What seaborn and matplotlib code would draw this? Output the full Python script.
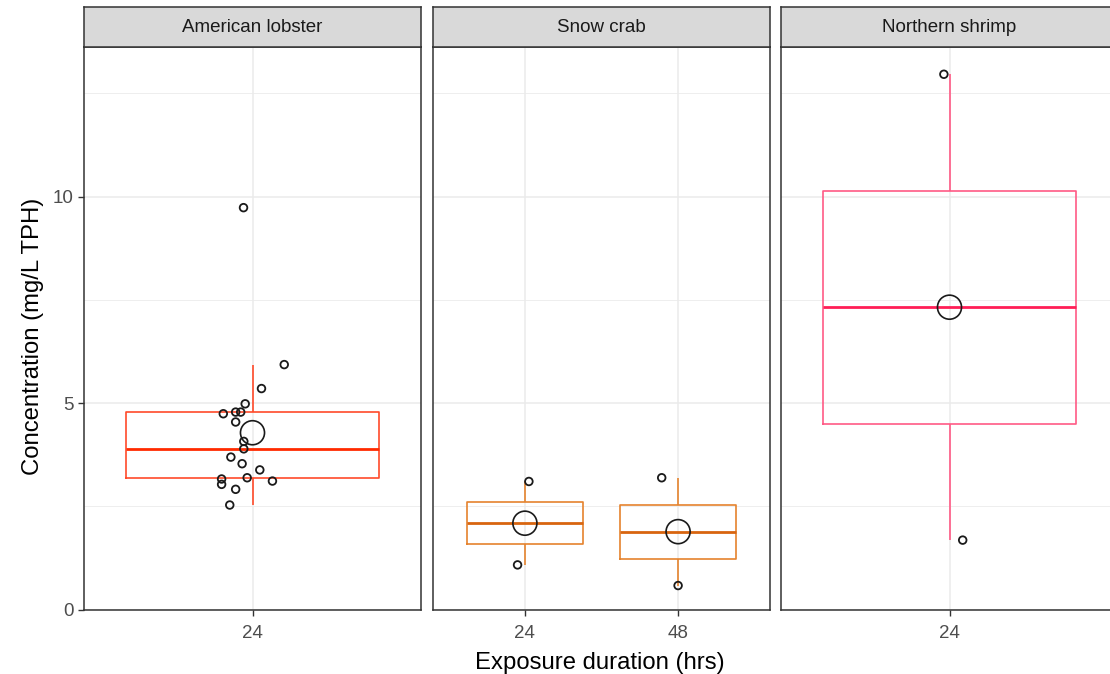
import numpy as np
import pandas as pd
import matplotlib
matplotlib.use("Agg")
import matplotlib.pyplot as plt
import seaborn as sns

# ---------------- data ----------------
species = ["American lobster", "Snow crab", "Northern shrimp"]
durations = {"American lobster": ["24"], "Snow crab": ["24", "48"], "Northern shrimp": ["24"]}

lobster_24 = [5.93, 5.35, 4.98, 4.74, 4.78, 4.78, 4.54, 4.07, 3.89, 3.69,
              3.53, 3.38, 3.16, 3.03, 3.19, 3.11, 2.91, 2.53, 9.73]
lobster_24_jitter = [0.113, 0.032, -0.026, -0.104, -0.060, -0.042, -0.060, -0.031, -0.031, -0.077,
                     -0.037, 0.026, -0.110, -0.110, -0.019, 0.071, -0.060, -0.081, -0.032]
snowcrab_24 = [3.10, 1.08]
snowcrab_24_jitter = [0.026, -0.048]
snowcrab_48 = [3.19, 0.58]
snowcrab_48_jitter = [-0.107, 0.0]
shrimp_24 = [12.96, 1.68]
shrimp_24_jitter = [-0.020, 0.047]

y_ticks = [0, 5, 10]
x_title = "Exposure duration (hrs)"
y_title = "Concentration (mg/L TPH)"

rows = []
for sp, dur, vals, jit in [("American lobster", "24", lobster_24, lobster_24_jitter),
                           ("Snow crab", "24", snowcrab_24, snowcrab_24_jitter),
                           ("Snow crab", "48", snowcrab_48, snowcrab_48_jitter),
                           ("Northern shrimp", "24", shrimp_24, shrimp_24_jitter)]:
    for v, j in zip(vals, jit):
        rows.append({"species": sp, "duration": dur, "conc": v, "jitter": j})
df = pd.DataFrame(rows)

# ---------------- styling ----------------
sns.set_theme(style="white")
plt.rcParams["font.family"] = ["Liberation Sans", "DejaVu Sans"]

box_colors = {"American lobster": "#FF4A2A", "Snow crab": "#E5832E", "Northern shrimp": "#FF5A85"}
med_colors = {"American lobster": "#FF2A00", "Snow crab": "#D8650F", "Northern shrimp": "#FF1E56"}
box_widths = {"American lobster": 0.9, "Snow crab": 0.76, "Northern shrimp": 0.9}

W, H = 1110, 674
fig = plt.figure(figsize=(W / 100, H / 100), dpi=100)
fig.patch.set_facecolor("white")

panel_left_px = [84, 433, 781]
panel_w_px = 337
top_px, bot_px = 47, 609.5
strip_top_px = 7
grey20 = "#333333"

for i, sp in enumerate(species):
    left = panel_left_px[i] / W
    ax = fig.add_axes([left, (H - bot_px) / H, panel_w_px / W, (bot_px - top_px) / H])
    sub = df[df["species"] == sp]
    order = durations[sp]
    c = box_colors[sp]
    sns.boxplot(data=sub, x="duration", y="conc", order=order, ax=ax,
                fill=False, color=c, linecolor=c, width=box_widths[sp],
                showfliers=False, showcaps=False, linewidth=1.2,
                whis=1.5,
                medianprops={"color": med_colors[sp], "linewidth": 2.0},
                zorder=3)
    # jittered points
    pos = sub["duration"].map({d: k for k, d in enumerate(order)}) + sub["jitter"]
    sns.scatterplot(x=pos.values, y=sub["conc"].values, ax=ax, s=30,
                    facecolors="none", edgecolor="#1a1a1a", linewidth=1.3, zorder=4)
    # means
    means = sub.groupby("duration")["conc"].mean().reindex(order)
    sns.scatterplot(x=np.arange(len(order)), y=means.values, ax=ax, s=300,
                    facecolors="none", edgecolor="#1a1a1a", linewidth=1.2, zorder=5)

    n = len(order)
    ax.set_xlim(-0.6, n - 1 + 0.6)
    ax.set_ylim(0, 13.62)
    ax.set_xlabel("")
    ax.set_ylabel("")
    ax.set_yticks(y_ticks)
    ax.set_yticks([2.5, 7.5, 12.5], minor=True)
    ax.grid(True, which="major", color="#EBEBEB", linewidth=1.1, zorder=0)
    ax.grid(True, which="minor", axis="y", color="#EBEBEB", linewidth=0.6, zorder=0)
    ax.set_axisbelow(True)
    for s in ax.spines.values():
        s.set_color(grey20)
        s.set_linewidth(1.1)
    ax.tick_params(axis="both", which="major", length=4.5, width=1.0, color=grey20,
                   labelcolor="#4D4D4D", labelsize=13.5, pad=3, bottom=True, left=(i == 0))
    ax.tick_params(axis="x", pad=7)
    ax.tick_params(axis="both", which="minor", length=0)
    if i > 0:
        ax.set_yticklabels([])
        ax.tick_params(axis="y", left=False)

    # strip
    sax = fig.add_axes([left, (H - top_px) / H, panel_w_px / W, (top_px - strip_top_px) / H])
    sax.set_facecolor("#D9D9D9")
    sax.set_xticks([])
    sax.set_yticks([])
    for s in sax.spines.values():
        s.set_color(grey20)
        s.set_linewidth(1.1)
    sax.text(0.5, 0.5, sp, ha="center", va="center", fontsize=13.5, color="#1A1A1A",
             transform=sax.transAxes)

fig.text(33 / W, 1 - 336 / H, y_title, rotation=90, ha="center", va="center",
         fontsize=17.2, color="black")
fig.text(600 / W, 1 - 663 / H, x_title, ha="center", va="center",
         fontsize=17.2, color="black")

fig.savefig("out.png", dpi=100, facecolor="white")
